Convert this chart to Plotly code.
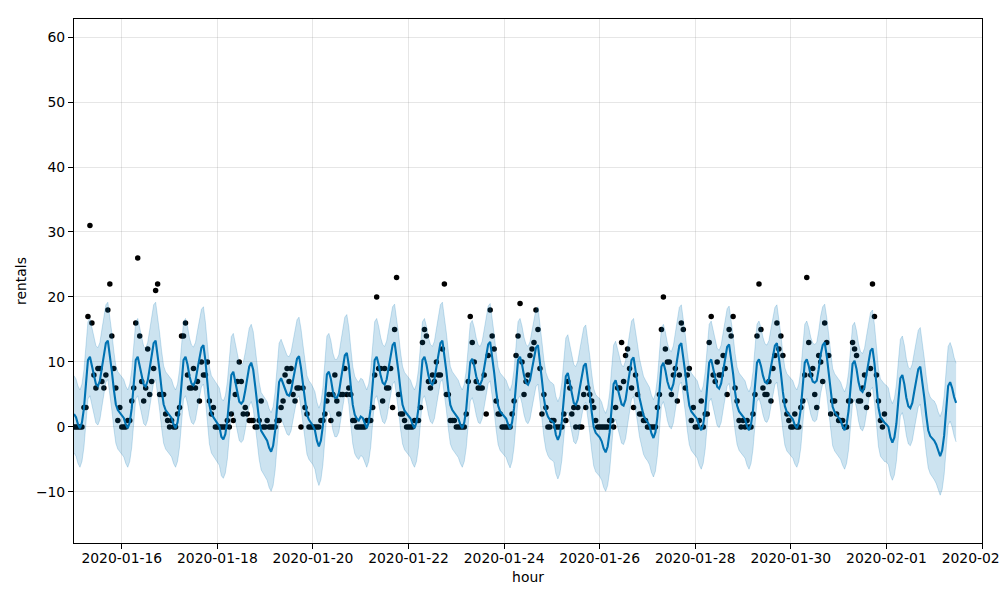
import pandas as pd
import plotly.graph_objects as go

START = "2020-01-15 00:00"

# observed hourly rentals, one list per day (hours 00..23)
obs_0115 = [0,0,0,0,0,3,3,17,31,16,8,6,9,9,7,6,8,18,22,14,9,6,1,3]
obs_0116 = [0,0,0,1,1,4,6,16,26,14,7,4,6,12,5,7,9,21,22,5,5,5,2,1]
obs_0117 = [0,1,0,0,2,3,14,14,16,8,6,6,9,6,7,4,10,8,8,10,4,2,3,0]
obs_0118 = [0,0,0,0,0,1,0,2,1,5,7,10,7,2,3,2,1,1,1,0,0,1,4,0]
obs_0119 = [0,1,0,0,0,0,1,1,3,4,8,9,7,9,5,4,6,6,0,6,3,2,0,0]
obs_0120 = [0,0,0,0,1,1,2,4,5,1,5,8,4,2,5,5,9,5,6,5,1,1,0,0]
obs_0121 = [0,0,0,1,1,1,3,8,20,9,9,4,9,6,6,9,3,15,23,5,2,2,1,0]
obs_0122 = [0,0,0,1,1,1,3,13,15,14,7,6,8,7,10,8,8,12,22,5,5,1,1,1]
obs_0123 = [0,0,0,0,0,2,7,17,13,10,7,6,6,6,8,2,11,18,14,12,4,2,2,0]
obs_0124 = [0,0,0,0,2,4,11,14,19,10,5,7,8,11,12,13,18,15,9,2,5,3,0,0]
obs_0125 = [1,1,0,0,0,0,2,1,7,6,2,3,0,3,0,0,5,3,6,5,4,3,1,0]
obs_0126 = [0,0,0,0,0,1,1,0,3,6,6,13,7,11,12,9,6,3,8,5,2,2,1,1]
obs_0127 = [0,0,0,0,0,3,5,15,20,12,10,10,5,8,9,4,8,16,15,6,8,9,1,3]
obs_0128 = [0,0,1,4,0,2,2,13,17,8,7,10,8,8,11,9,5,15,14,17,6,4,1,0]
obs_0129 = [1,0,1,0,0,2,5,14,22,15,6,5,5,7,4,9,11,16,12,14,11,4,2,1]
obs_0130 = [0,0,2,0,0,3,4,8,23,13,8,9,5,3,11,10,7,16,13,11,2,4,4,2]
obs_0131 = [1,1,1,0,0,4,4,13,12,11,4,4,6,8,3,5,9,22,17,8,4,1,0,2]

# forecast yhat, one list per day (hours 00..23)
fc_0115 = [2.0,1.5,0.4,-0.2,0.7,2.9,6.6,10.3,10.8,9.5,7.7,6.6,6.3,7.1,9.1,11.3,12.9,13.3,11.3,8.6,5.8,3.5,2.6,2.2]
fc_0116 = [1.9,1.4,0.4,-0.2,0.7,2.9,6.6,10.3,10.8,9.5,7.7,6.5,6.2,7.1,9.0,11.3,12.9,13.3,11.3,8.6,5.8,3.5,2.6,2.2]
fc_0117 = [1.9,1.4,0.4,-0.2,0.7,2.9,6.6,10.3,10.8,9.6,7.8,6.7,6.4,7.1,8.9,10.9,12.2,12.6,10.2,6.8,3.4,2.0,1.5,1.1]
fc_0118 = [0.7,0.1,-1.5,-1.9,-1.1,1.0,4.5,8.0,8.5,7.1,5.2,3.9,3.6,4.0,5.6,7.7,9.3,9.9,8.8,6.3,3.2,1.0,-0.6,-1.1]
fc_0119 = [-1.5,-2.1,-3.2,-3.8,-2.9,-0.6,3.2,6.9,7.5,6.7,5.7,5.0,4.8,5.5,7.2,9.2,10.5,10.9,9.1,6.6,4.0,1.9,1.1,0.7]
fc_0120 = [0.2,-0.5,-2.1,-3.0,-2.1,0.2,4.1,8.1,8.5,7.4,5.5,4.5,4.5,5.2,7.2,9.4,11.0,11.4,9.5,6.3,3.4,1.9,1.3,1.0]
fc_0121 = [1.6,1.4,0.5,-0.2,0.7,2.9,6.6,10.3,10.8,9.6,7.9,6.8,6.5,7.3,9.1,11.2,12.6,13.0,11.0,8.4,5.6,3.4,2.5,2.1]
fc_0122 = [1.8,1.3,0.4,-0.2,0.7,2.9,6.6,10.3,10.8,9.6,7.9,6.8,6.5,7.3,9.2,11.4,12.9,13.3,11.3,8.6,5.7,3.4,2.6,2.1]
fc_0123 = [1.8,1.3,0.4,-0.2,0.7,2.8,6.4,10.0,10.5,9.4,7.8,6.7,6.5,7.3,9.1,11.3,12.7,13.1,11.1,8.4,5.6,3.3,2.4,2.0]
fc_0124 = [1.7,1.3,0.4,-0.3,0.7,2.9,6.6,10.3,10.8,9.6,7.9,6.8,6.5,7.2,8.9,10.9,12.2,12.6,10.3,7.2,4.4,2.5,1.6,1.1]
fc_0125 = [0.9,0.6,-1.2,-2.0,-1.2,0.9,4.4,7.8,8.3,6.9,5.0,3.7,3.4,4.2,6.0,8.0,9.4,9.8,7.8,5.1,2.3,0.0,-0.9,-1.3]
fc_0126 = [-1.6,-2.2,-3.3,-3.9,-3.0,-0.8,3.0,6.6,7.2,6.1,4.6,3.5,3.3,4.2,6.3,8.6,10.3,10.7,9.0,6.7,4.5,2.9,1.8,1.2]
fc_0127 = [0.8,0.2,-1.0,-1.7,-0.8,1.6,5.5,9.3,9.9,8.7,7.0,6.0,5.7,6.6,8.6,10.9,12.5,12.9,10.9,8.3,5.5,3.3,2.4,2.0]
fc_0128 = [1.7,1.2,0.1,-0.5,0.4,2.6,6.3,9.9,10.4,9.1,7.3,6.2,5.9,6.7,8.6,10.8,12.3,12.7,10.8,8.2,5.4,3.3,2.4,2.0]
fc_0129 = [1.7,1.2,0.1,-0.5,0.4,2.6,6.3,9.9,10.4,9.4,7.9,6.9,6.7,7.4,9.2,11.2,12.5,12.9,10.9,8.3,5.4,3.2,2.3,1.9]
fc_0130 = [1.6,1.2,0.3,-0.2,0.7,2.8,6.4,9.9,10.4,9.4,7.9,7.0,6.8,7.1,8.9,11.2,12.6,13.0,11.0,8.3,5.4,3.1,2.3,1.8]
fc_0131 = [1.5,1.0,0.1,-0.5,0.4,2.5,6.1,9.7,10.2,8.9,6.9,5.7,5.4,6.2,8.1,10.2,11.7,12.1,9.8,6.5,3.0,1.5,1.0,0.7]
fc_0201 = [0.4,0.0,-1.6,-2.4,-1.6,0.5,4.1,7.5,8.0,6.6,4.5,3.2,2.9,3.7,5.5,7.5,8.9,9.3,7.3,4.6,1.8,-0.5,-1.4,-1.8]
fc_0202 = [-2.1,-2.7,-3.8,-4.5,-3.6,-1.3,2.6,6.3,6.9,6.0,4.6,3.7]

# uncertainty half-widths per day (upper / lower)
band_up_width = [5.9,5.9,5.9,5.9,6.0,5.9,5.9,5.9,5.9,5.9,5.9,6.0,5.9,5.9,5.9,5.9,5.9,6.0,6.1]
band_lo_width = [6.0,6.0,6.0,6.0,6.1,6.0,6.0,6.0,6.0,6.0,6.0,6.0,6.0,6.0,6.0,6.0,6.0,5.8,6.0]

obs_days = [obs_0115, obs_0116, obs_0117, obs_0118, obs_0119, obs_0120, obs_0121,
            obs_0122, obs_0123, obs_0124, obs_0125, obs_0126, obs_0127, obs_0128,
            obs_0129, obs_0130, obs_0131]
fc_days = [fc_0115, fc_0116, fc_0117, fc_0118, fc_0119, fc_0120, fc_0121, fc_0122,
           fc_0123, fc_0124, fc_0125, fc_0126, fc_0127, fc_0128, fc_0129, fc_0130,
           fc_0131, fc_0201, fc_0202]

y_obs = [v for d in obs_days for v in d]
t_obs = pd.date_range(START, periods=len(y_obs), freq="h")

yhat, lower, upper = [], [], []
for d, day in enumerate(fc_days):
    for v in day:
        yhat.append(v)
        upper.append(v + band_up_width[d])
        lower.append(v - band_lo_width[d])
t_fc = pd.date_range(START, periods=len(yhat), freq="h")

BLUE = "#0072B2"
BAND = "rgba(0,114,178,0.2)"
GRID = "rgba(128,128,128,0.2)"
FONT = "DejaVu Sans"

fig = go.Figure()
fig.add_trace(go.Scatter(x=t_obs, y=y_obs, mode="markers",
                         marker=dict(color="black", size=5.5), hoverinfo="skip"))
fig.add_trace(go.Scatter(x=t_fc, y=yhat, mode="lines",
                         line=dict(color=BLUE, width=2.1)))
fig.add_trace(go.Scatter(x=t_fc, y=lower, mode="lines",
                         line=dict(color=BAND, width=1)))
fig.add_trace(go.Scatter(x=t_fc, y=upper, mode="lines", fill="tonexty",
                         fillcolor=BAND, line=dict(color=BAND, width=1)))

fig.update_layout(
    width=1000, height=600,
    margin=dict(l=74, r=18, t=19, b=57),
    paper_bgcolor="white", plot_bgcolor="white",
    showlegend=False,
    font=dict(family=FONT, size=13.9, color="black"),
)
fig.update_xaxes(
    type="date",
    range=["2020-01-15 00:00", "2020-02-03 00:00"],
    tick0="2020-01-16", dtick=2 * 86400000, tickformat="%Y-%m-%d",
    showgrid=True, gridcolor=GRID, gridwidth=1,
    showline=True, mirror=True, linecolor="black", linewidth=1,
    ticks="outside", ticklen=5, tickwidth=1, tickcolor="black",
    zeroline=False, automargin=False, ticklabeloverflow="allow",
    ticklabelstandoff=-3,
    title=dict(text="hour", standoff=7, font=dict(family=FONT, size=13.9)),
)
fig.update_yaxes(
    range=[-17.85, 62.77], tick0=0, dtick=10,
    showgrid=True, gridcolor=GRID, gridwidth=1,
    showline=True, mirror=True, linecolor="black", linewidth=1,
    ticks="outside", ticklen=5, tickwidth=1, tickcolor="black",
    zeroline=False, automargin=False,
    title=dict(text="rentals", standoff=6, font=dict(family=FONT, size=13.9)),
)

fig.write_html("out.html", config={"displayModeBar": False},
               post_script="document.body.style.margin='0';document.body.style.padding='0';")
